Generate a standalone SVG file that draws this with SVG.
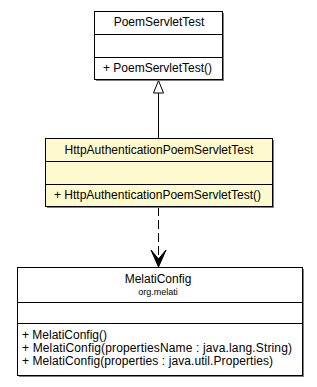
<svg xmlns="http://www.w3.org/2000/svg" width="317" height="387" viewBox="0 0 317 387">
<style>
.box{stroke:#000;stroke-width:1}
.shadow{fill:#7f7f7f}
.sep{stroke:#000;stroke-width:1}
text{font-family:"Liberation Sans",Arial,sans-serif;font-size:12px;fill:#000}
.c{text-anchor:middle}
.small{font-size:9px}
.edge{stroke:#000;stroke-width:1;fill:none}
</style>
<rect width="317" height="387" fill="#fff"/>
<g id="connectors">
<line class="edge" x1="158.5" y1="93" x2="158.5" y2="138"/>
<polygon points="158.5,80.5 153.5,93 163.5,93" fill="#fff" stroke="#000"/>
<line class="edge" x1="158.5" y1="207" x2="158.5" y2="262" stroke-dasharray="9,4"/>
<polygon points="158.5,267 151,250 158.5,259 166,250" fill="#000" stroke="#000" stroke-width="1"/>
</g>
<g id="PoemServletTest">
<rect class="shadow" x="96" y="13" width="128" height="68"/>
<rect class="box" x="94.5" y="11.5" width="128" height="68" fill="#fff"/>
<line class="sep" x1="94.5" y1="34.5" x2="222.5" y2="34.5"/>
<line class="sep" x1="94.5" y1="57.5" x2="222.5" y2="57.5"/>
<text class="c" x="159" y="26">PoemServletTest</text>
<text x="103" y="72">+ PoemServletTest()</text>
</g>
<g id="HttpAuthenticationPoemServletTest">
<rect class="shadow" x="47" y="140" width="227" height="68"/>
<rect class="box" x="45.5" y="138.5" width="227" height="68" fill="#fffacd"/>
<line class="sep" x1="45.5" y1="161.5" x2="272.5" y2="161.5"/>
<line class="sep" x1="45.5" y1="184.5" x2="272.5" y2="184.5"/>
<text class="c" x="159" y="154">HttpAuthenticationPoemServletTest</text>
<text x="54" y="199">+ HttpAuthenticationPoemServletTest()</text>
</g>
<g id="MelatiConfig">
<rect class="shadow" x="19" y="269" width="285" height="108"/>
<rect class="box" x="17.5" y="267.5" width="285" height="108" fill="#fff"/>
<line class="sep" x1="17.5" y1="302.5" x2="302.5" y2="302.5"/>
<line class="sep" x1="17.5" y1="323.5" x2="302.5" y2="323.5"/>
<text class="c" x="158" y="283">MelatiConfig</text>
<text class="c small" x="158" y="295">org.melati</text>
<text x="22" y="339">+ MelatiConfig()</text>
<text x="22" y="352" textLength="270" lengthAdjust="spacing">+ MelatiConfig(propertiesName : java.lang.String)</text>
<text x="22" y="365" textLength="251" lengthAdjust="spacing">+ MelatiConfig(properties : java.util.Properties)</text>
</g>
</svg>
